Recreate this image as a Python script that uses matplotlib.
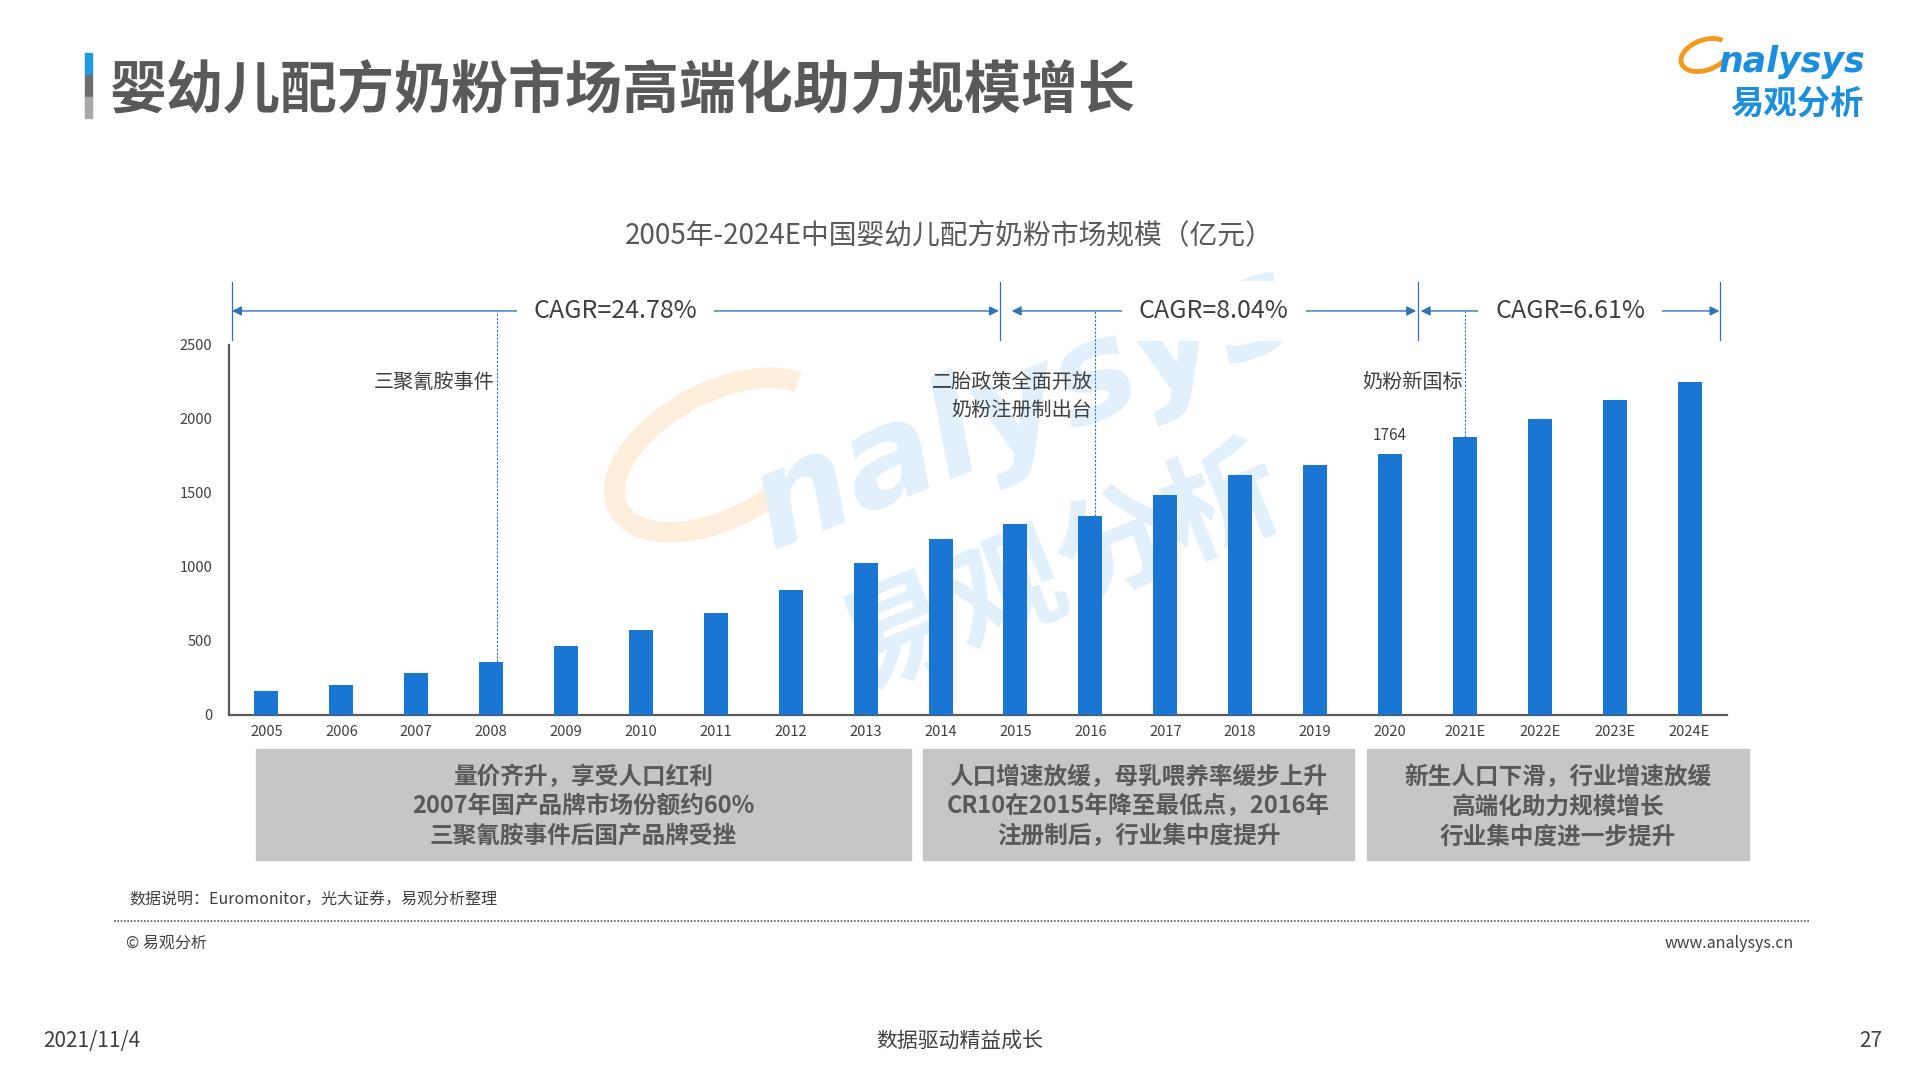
import matplotlib.pyplot as plt
from matplotlib.patches import Rectangle, Arc

plt.rcParams['font.family'] = ['Noto Sans CJK SC', 'DejaVu Sans']

# data (亿元)
years = ['2005', '2006', '2007', '2008', '2009', '2010', '2011', '2012', '2013', '2014',
         '2015', '2016', '2017', '2018', '2019', '2020', '2021E', '2022E', '2023E', '2024E']
market_size = [160, 201, 283, 358, 466, 575, 691, 842, 1025, 1188,
               1290, 1342, 1485, 1622, 1688, 1764, 1878, 2000, 2130, 2252]
cagr_labels = ['CAGR=24.78%', 'CAGR=8.04%', 'CAGR=6.61%']
event_years = ['2008', '2016', '2021E']
event_labels = [['三聚氰胺事件'], ['二胎政策全面开放', '奶粉注册制出台'], ['奶粉新国标']]
labelled_year = '2020'
box_texts = [
    ['量价齐升，享受人口红利', '2007年国产品牌市场份额约60%', '三聚氰胺事件后国产品牌受挫'],
    ['人口增速放缓，母乳喂养率缓步上升', 'CR10在2015年降至最低点，2016年', '注册制后，行业集中度提升'],
    ['新生人口下滑，行业增速放缓', '高端化助力规模增长', '行业集中度进一步提升'],
]

BLUE = '#1976D2'
LINE_BLUE = '#2E75B6'
DARK = '#404040'
GRAY = '#595959'

fig = plt.figure(figsize=(19.2, 10.8), dpi=100)
fig.patch.set_facecolor('white')

# background layer for the watermark
bg = fig.add_axes([0, 0, 1, 1], zorder=-1)
bg.axis('off')
bg.add_patch(Arc((7.2, 10.8 - 4.55), 2.3, 1.25, angle=28, theta1=15, theta2=300,
                 transform=fig.dpi_scale_trans, color='#FDEEDC', lw=15))
bg.text(1025 / 1920, 1 - 408 / 1080, 'nalysys', fontsize=98, fontweight='bold', fontstyle='italic',
        color='#E2F0FB', rotation=22, ha='center', va='center', family=['DejaVu Sans'],
        transform=fig.transFigure)
bg.text(1062 / 1920, 1 - 572 / 1080, '易观分析', fontsize=84, fontweight='bold', color='#E2F0FB',
        rotation=22, ha='center', va='center', transform=fig.transFigure)

# title with accent bar
fig.add_artist(Rectangle((85 / 1920, 1 - 75 / 1080), 7 / 1920, 22 / 1080, transform=fig.transFigure, color='#1E9BE0'))
fig.add_artist(Rectangle((85 / 1920, 1 - 97 / 1080), 7 / 1920, 22 / 1080, transform=fig.transFigure, color='#6d6d6d'))
fig.add_artist(Rectangle((85 / 1920, 1 - 118 / 1080), 7 / 1920, 21 / 1080, transform=fig.transFigure, color='#a8a8a8'))
fig.text(110 / 1920, 1 - 90 / 1080, '婴幼儿配方奶粉市场高端化助力规模增长', fontsize=41, fontweight='bold',
         color=GRAY, va='center', ha='left')

# logo top right
fig.add_artist(Arc((17.05, 10.8 - 0.55), 0.5, 0.3, angle=20, theta1=20, theta2=330,
                   transform=fig.dpi_scale_trans, color='#F39A1E', lw=3.5))
fig.text(1866 / 1920, 1 - 62 / 1080, 'nalysys', fontsize=25, fontweight='bold', fontstyle='italic',
         color='#1C8FDC', ha='right', va='center', family=['DejaVu Sans'])
fig.text(1864 / 1920, 1 - 104 / 1080, '易观分析', fontsize=24, fontweight='bold', color='#1C8FDC',
         ha='right', va='center')

# chart title
fig.text(949 / 1920, 1 - 236 / 1080, '2005年-2024E中国婴幼儿配方奶粉市场规模（亿元）', fontsize=20,
         fontweight='medium', color=GRAY, ha='center', va='center')

ax = fig.add_axes([229 / 1920, 1 - 715 / 1080, 1498 / 1920, 370 / 1080])
ax.patch.set_alpha(0)
x = list(range(len(years)))
ax.bar(x, market_size, width=0.32, color=BLUE, zorder=3)
ax.set_xlim(-0.5, 19.5)
ax.set_ylim(0, 2500)
ax.set_xticks(x)
ax.set_xticklabels(years)
ax.set_yticks([0, 500, 1000, 1500, 2000, 2500])
ax.tick_params(axis='x', length=0, pad=7, labelsize=10.5, labelcolor=DARK)
ax.tick_params(axis='y', length=0, pad=12, labelsize=10.5, labelcolor=DARK)
for side in ['top', 'right']:
    ax.spines[side].set_visible(False)
for side in ['left', 'bottom']:
    ax.spines[side].set_color(GRAY)
    ax.spines[side].set_linewidth(1.6)

# CAGR brackets
arrow_y = 2730
separators = [-0.46, 9.8, 15.37, 19.4]
spans = [(-0.46, 9.78), (9.95, 15.35), (15.41, 19.4)]
for sx in separators:
    ax.plot([sx, sx], [2534, 2926], color=LINE_BLUE, lw=0.9, clip_on=False)
for (x0, x1), label in zip(spans, cagr_labels):
    ax.annotate('', xy=(x1, arrow_y), xytext=(x0, arrow_y),
                arrowprops=dict(arrowstyle='<|-|>', color=LINE_BLUE, lw=1.0, shrinkA=0, shrinkB=0,
                                mutation_scale=14), annotation_clip=False)
    ax.text((x0 + x1) / 2, arrow_y, label, fontsize=18, color=DARK, ha='center', va='center',
            bbox=dict(facecolor='white', edgecolor='none', pad=12), zorder=5, clip_on=False)

# event markers (dashed line sits a little right of bar centre in the source)
line_shift = [0.08, 0.06, 0.0]
for yr, lines, dx in zip(event_years, event_labels, line_shift):
    i = years.index(yr)
    ax.plot([i + dx, i + dx], [market_size[i], arrow_y], color=LINE_BLUE, lw=0.8, ls=(0, (2, 1.5)),
            clip_on=False, zorder=4)
    for k, line in enumerate(lines):
        ax.text(i + dx - 0.03, 2250 - k * 190, line, fontsize=14.5, color=DARK, ha='right', va='center')

i = years.index(labelled_year)
ax.text(i, market_size[i] + 70, str(market_size[i]), fontsize=11, color=DARK, ha='center', va='bottom')

# bottom commentary boxes
boxes = [(256, 911), (923, 1354), (1367, 1749)]
for (bx0, bx1), lines in zip(boxes, box_texts):
    fig.add_artist(Rectangle((bx0 / 1920, 1 - 860 / 1080), (bx1 - bx0) / 1920, 111 / 1080,
                             transform=fig.transFigure, color='#C6C6C6', zorder=1))
    for k, line in enumerate(lines):
        fig.text((bx0 + bx1) / 2 / 1920, 1 - (777 + 29.5 * k) / 1080, line, fontsize=17,
                 fontweight='bold', color=GRAY, ha='center', va='center', zorder=2)

# footer
fig.text(129 / 1920, 1 - 900 / 1080, '数据说明：Euromonitor，光大证券，易观分析整理', fontsize=11.5,
         color=DARK, ha='left', va='center')
fig.add_artist(plt.Line2D([114 / 1920, 1809 / 1920], [1 - 921 / 1080, 1 - 921 / 1080],
                          transform=fig.transFigure, color=GRAY, lw=1.2, ls=(0, (1, 1))))
fig.text(126 / 1920, 1 - 943 / 1080, '© 易观分析', fontsize=11.5, color=DARK, ha='left', va='center')
fig.text(1794 / 1920, 1 - 943 / 1080, 'www.analysys.cn', fontsize=11.5, color=DARK, ha='right', va='center')
fig.text(43 / 1920, 1 - 1041 / 1080, '2021/11/4', fontsize=15, color=DARK, ha='left', va='center')
fig.text(960 / 1920, 1 - 1041 / 1080, '数据驱动精益成长', fontsize=15, color=DARK, ha='center', va='center')
fig.text(1882 / 1920, 1 - 1041 / 1080, '27', fontsize=15, color=DARK, ha='right', va='center')

fig.savefig('out.png', dpi=100)
